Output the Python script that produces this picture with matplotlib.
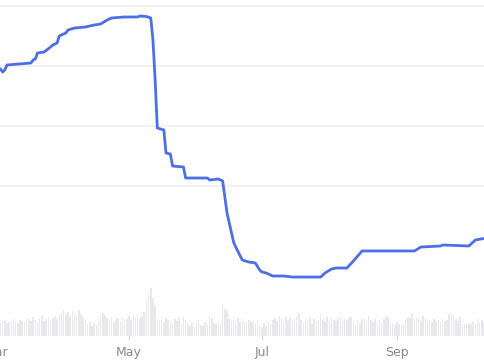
import numpy as np
import pandas as pd
import matplotlib
matplotlib.use('Agg')
import matplotlib.pyplot as plt
import matplotlib.dates as mdates
import matplotlib.transforms as mtransforms

# price line (step-ish points)
price_dates = ['2022-03-02', '2022-03-03', '2022-03-04', '2022-03-05', '2022-03-06',
	'2022-03-17', '2022-03-18', '2022-03-19', '2022-03-20', '2022-03-23',
	'2022-03-26', '2022-03-27', '2022-03-29', '2022-03-30', '2022-04-02',
	'2022-04-03', '2022-04-06', '2022-04-11', '2022-04-15', '2022-04-18',
	'2022-04-21', '2022-04-23', '2022-04-29', '2022-05-05', '2022-05-06',
	'2022-05-09', '2022-05-11', '2022-05-12', '2022-05-13', '2022-05-14',
	'2022-05-17', '2022-05-18', '2022-05-20', '2022-05-21', '2022-05-26',
	'2022-05-27', '2022-06-06', '2022-06-07', '2022-06-11', '2022-06-13',
	'2022-06-15', '2022-06-18', '2022-06-19', '2022-06-22', '2022-06-25',
	'2022-06-28', '2022-06-30', '2022-07-01', '2022-07-03', '2022-07-06',
	'2022-07-11', '2022-07-15', '2022-07-28', '2022-07-30', '2022-08-02',
	'2022-08-04', '2022-08-09', '2022-08-12', '2022-08-16', '2022-09-09',
	'2022-09-12', '2022-09-21', '2022-09-22', '2022-10-04', '2022-10-07',
	'2022-10-12']
price = [44.67, 44.5, 44.0, 44.33, 45.17,
	45.5, 46.0, 46.17, 47.17, 47.33,
	48.17, 48.5, 48.83, 50.0, 50.5,
	51.0, 51.33, 51.5, 51.83, 52.0,
	52.67, 53.0, 53.17, 53.17, 53.33,
	53.25, 53.0, 49.33, 42.67, 34.67,
	34.33, 30.5, 30.33, 28.33, 28.17,
	26.33, 26.33, 26.0, 26.17, 25.83,
	20.5, 15.67, 14.83, 12.67, 12.33,
	12.17, 11.0, 10.67, 10.5, 10.0,
	10.0, 9.83, 9.83, 10.5, 11.17,
	11.33, 11.33, 12.5, 14.17, 14.17,
	14.83, 15.0, 15.17, 15.0, 16.0,
	16.33]

# daily volume from 2022-03-02
volume_start = '2022-03-02'
volume = [14, 13, 15, 16, 13, 14, 15, 17, 14, 13, 16, 15, 14, 18,
	17, 15, 19, 16, 14, 18, 20, 15, 17, 19, 16, 18, 20, 17,
	21, 23, 27, 22, 24, 20, 25, 23, 21, 26, 22, 19, 17,
	12, 14, 10, 13, 11, 15,
	20, 23, 21, 18,
	16, 19, 14, 17, 18, 15, 19, 16,
	17, 20, 16, 22, 19, 21, 18,
	20, 24, 36, 42, 48, 38, 30,
	17, 15, 19, 14, 18, 16, 15,
	13, 17, 15, 19, 12, 20, 16,
	12, 10, 14, 9, 13, 16, 11, 10, 14, 12,
	20, 18,
	13, 12, 14, 12,
	32, 27, 26,
	17, 15, 19, 16, 18, 14, 17,
	15, 13, 16, 14, 15, 13, 16,
	11, 9, 13, 10, 14, 12,
	16, 18, 15, 20, 17, 14, 19, 16, 18, 15, 17, 20,
	23,
	16, 13, 18, 15, 19, 12, 17, 14, 16,
	22,
	17, 15, 19, 14, 18, 16, 15, 17, 19, 14, 18, 16,
	19, 19,
	14, 12, 16, 13, 17, 18, 15,
	21,
	16, 14, 17, 15, 16, 14, 17,
	20, 19,
	12, 13, 11, 14, 12, 11, 13,
	17, 19, 18, 22, 17, 19,
	18, 15, 20, 17, 16,
	16, 14, 17, 15, 16, 14, 17, 15, 16,
	22, 23, 21,
	17, 15, 19,
	12, 12, 11, 12, 12,
	15, 13, 17, 14, 16, 13, 15]

grid_levels = [25, 35, 45, 55]
tick_months = ['2022-03-01', '2022-05-01', '2022-07-01', '2022-09-01']
tick_labels = ['Mar', 'May', 'Jul', 'Sep']

vol_dates = pd.date_range(volume_start, periods=len(volume), freq='D')
p_dates = pd.to_datetime(price_dates)

fig = plt.figure(figsize=(4.85, 3.6), dpi=100)
ax = fig.add_axes([0, 24 / 360, 1, 336 / 360])
ax.bar(vol_dates, volume, width=0.7, color='#e9e9ed', lw=0)
ax.set_ylim(0, 336)
ax.set_yticks([])

ax2 = ax.twinx()
for g in grid_levels:
	ax2.axhline(g, color='#f2f2f4', lw=1.5, zorder=0)
ax2.plot(p_dates, price, color='#4d6fe6', lw=2, solid_joinstyle='round')
ax2.set_ylim(0, 56)
ax2.set_yticks([])

x0 = pd.Timestamp('2022-03-02 19:00')
x1 = pd.Timestamp('2022-10-11 10:00')
ax.set_xlim(x0, x1)
ax2.set_xlim(x0, x1)

for a in (ax, ax2):
	for s in a.spines.values():
		s.set_visible(False)

ticks = pd.to_datetime(tick_months)
ax.set_xticks(ticks[1:])
ax.set_xticklabels(tick_labels[1:])
ax.tick_params(axis='x', length=3, color='#d0d0d0', labelcolor='#8a8a8a', labelsize=9, pad=4)

# first month tick sits just left of the view, only partly visible
trans = mtransforms.blended_transform_factory(ax.transData, ax.transAxes)
ax.annotate(tick_labels[0], xy=(mdates.date2num(ticks[0]), 0), xycoords=trans,
	xytext=(0, -7), textcoords='offset points', ha='center', va='top',
	color='#8a8a8a', fontsize=9, annotation_clip=False)

fig.savefig('out.png', dpi=100)
